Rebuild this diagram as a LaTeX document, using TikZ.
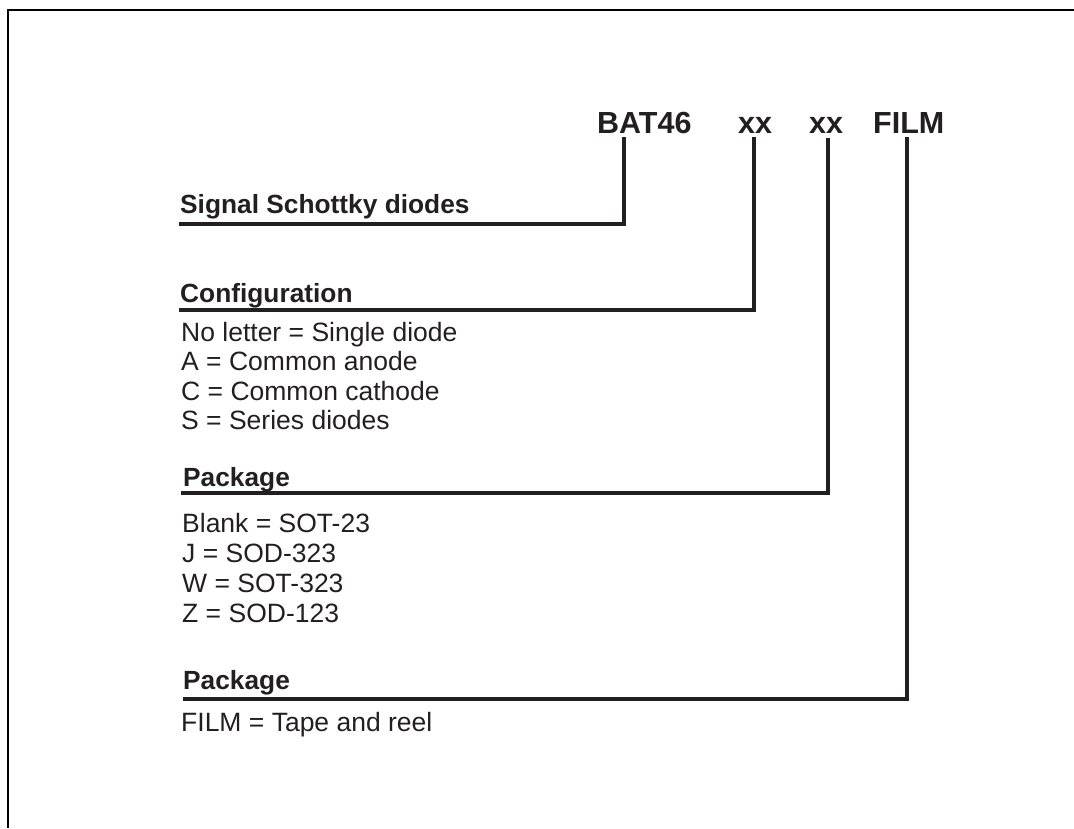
\documentclass[tikz,border=0pt]{standalone}
\usepackage{fontspec}
\setmainfont{Liberation Sans}
\definecolor{ink}{HTML}{231F20}
\begin{document}
\begin{tikzpicture}[x=1pt,y=-1pt,
  code/.style={font=\fontsize{30.5}{36}\selectfont\bfseries, text=ink, inner sep=0pt, anchor=base west},
  head/.style={font=\fontsize{26.3}{30}\selectfont\bfseries, text=ink, inner sep=0pt, anchor=base west},
  item/.style={font=\fontsize{26.5}{30}\selectfont, text=ink, inner sep=0pt, anchor=base west},
  lead/.style={draw=ink, line width=3.2pt, line join=miter, line cap=butt},
  frame/.style={draw=black, line width=2.4pt}]
\useasboundingbox (0,0) rectangle (1074,828);
% frame
\coordinate (fa) at (8,828);
\coordinate (fb) at (8,10);
\coordinate (fc) at (1074,10);
\draw[frame] (fa) -- (fb) -- (fc);
% code parts
\node[code] (bat) at (597,133) {BAT46};
\node[code] (xa) at (738,133) {xx};
\node[code] (xb) at (809,133) {xx};
\node[code] (film) at (873,133) {FILM};
% headers
\node[head] (h1) at (180,213) {Signal Schottky diodes};
\node[head] (h2) at (180,302) {Configuration};
\node[head] (h3) at (183,486) {Package};
\node[head] (h4) at (183,689) {Package};
% items
\node[item] (c1) at (181,341) {No letter = Single diode};
\node[item] (c2) at (181,370.5) {A = Common anode};
\node[item] (c3) at (181,400) {C = Common cathode};
\node[item] (c4) at (181,429.5) {S = Series diodes};
\node[item] (p1) at (182,532) {Blank = SOT-23};
\node[item] (p2) at (182,562) {J = SOD-323};
\node[item] (p3) at (182,592) {W = SOT-323};
\node[item] (p4) at (182,622) {Z = SOD-123};
\node[item] (f1) at (181,731) {FILM = Tape and reel};
% leader coordinates
\coordinate (t1) at (624,137);
\coordinate (t2) at (754,137);
\coordinate (t3) at (828,138);
\coordinate (t4) at (907,137);
\coordinate (e1) at (179,224);
\coordinate (e2) at (179,310);
\coordinate (e3) at (181,493);
\coordinate (e4) at (183,699);
\draw[lead] (t1) |- (e1);
\draw[lead] (t2) |- (e2);
\draw[lead] (t3) |- (e3);
\draw[lead] (t4) |- (e4);
\end{tikzpicture}
\end{document}
